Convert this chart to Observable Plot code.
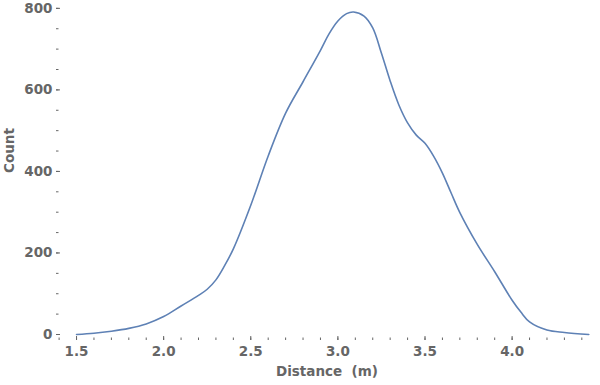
<!DOCTYPE html>
<html><head><meta charset="utf-8">
<script src="https://cdn.jsdelivr.net/npm/d3@7"></script>
<script src="https://cdn.jsdelivr.net/npm/@observablehq/plot@0.6"></script>
<style>
body{margin:0;background:#fff;}
#chart svg text{font-family:"DejaVu Sans",sans-serif !important;font-size:13.5px !important;font-weight:bold !important;}
</style></head>
<body><div id="chart"></div>
<script>
const distance = [1.5,1.6,1.7,1.8,1.9,2.0,2.1,2.2,2.25,2.3,2.35,2.4,2.5,2.6,2.7,2.8,2.9,2.95,3.0,3.05,3.09,3.15,3.2,3.25,3.3,3.35,3.4,3.45,3.5,3.55,3.6,3.65,3.7,3.8,3.9,4.0,4.05,4.1,4.2,4.3,4.44];
const count =    [0,3,8,15,26,44,70,96,111,134,169,210,317,438,543,620,697,738,769,787,791,781,752,690,622,563,519,489,469,437,396,347,299,221,154,84,55,31,11,5,0];
const xMajor = [1.5,2.0,2.5,3.0,3.5,4.0];
const xMinor = d3.range(14,45).map(d=>d/10);
const yMajor = [0,200,400,600,800];
const yMinor = d3.range(0,801,50);
const xLabel = "Distance  (m)";
const yLabel = "Count";

const data = distance.map((d,i)=>({distance:d,count:count[i]}));
const gray = "#666666";
const font = "DejaVu Sans, sans-serif";
const fs = 13.5;

const chart = Plot.plot({
  width: 600, height: 385,
  marginLeft: 56, marginRight: 3, marginTop: 5, marginBottom: 45,
  style: {fontFamily: font, fontSize: fs + "px", fontWeight: "bold", color: gray, background: "#fff"},
  x: {domain: [1.385, 4.49]},
  y: {domain: [-14.7, 807]},
  marks: [
    Plot.axisX({ticks: xMinor, tickSize: -2.5, text: null, stroke: gray, strokeOpacity: 1, label: null}),
    Plot.axisX({ticks: xMajor, tickSize: -4, text: null, stroke: gray, strokeOpacity: 1, line: true, label: null}),
    Plot.axisX({ticks: xMajor, tickSize: 0, tickPadding: 6, tickFormat: d3.format(".1f"), fill: gray, fontSize: fs, fontWeight: "bold", label: null}),
    Plot.axisY({ticks: yMinor, tickSize: -2.5, text: null, stroke: gray, strokeOpacity: 1, label: null}),
    Plot.axisY({ticks: yMajor, tickSize: -4, text: null, stroke: gray, strokeOpacity: 1, line: true, label: null}),
    Plot.axisY({ticks: yMajor, tickSize: 0, tickPadding: 4, fill: gray, fontSize: fs, fontWeight: "bold", label: null}),
    Plot.text([xLabel], {frameAnchor: "bottom", dy: 35, fill: gray, fontSize: fs, fontWeight: "bold"}),
    Plot.text([yLabel], {frameAnchor: "left", dx: -47, rotate: -90, fill: gray, fontSize: fs, fontWeight: "bold"}),
    Plot.line(data, {x: "distance", y: "count", stroke: "#5E81B5", strokeWidth: 1.6, curve: "catmull-rom"})
  ]
});
document.getElementById("chart").appendChild(chart);
</script>
</body></html>
